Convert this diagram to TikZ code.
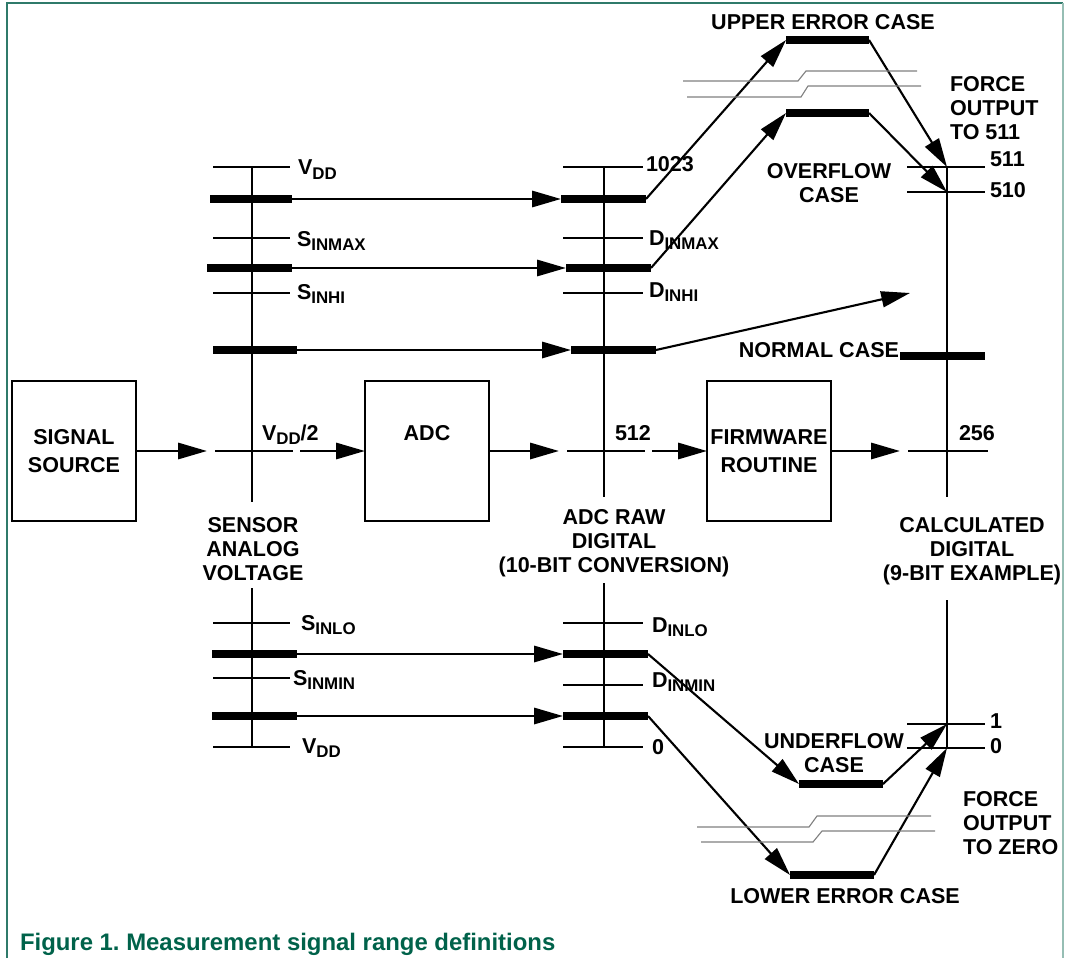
\documentclass[tikz,border=0pt]{standalone}
\usepackage{fontspec}
\setmainfont{Liberation Sans}
\usetikzlibrary{arrows.meta}
\definecolor{capgreen}{RGB}{0,98,74}
\definecolor{framegreen}{RGB}{47,122,106}
\definecolor{framegrey}{RGB}{150,190,180}
\newcommand{\sbs}[1]{\raisebox{-0.38ex}{\fontsize{12}{12}\selectfont #1}}
\frenchspacing
\begin{document}
\begin{tikzpicture}[x=0.025cm,y=-0.025cm,inner sep=0pt,outer sep=0pt,line width=1.4pt,
font=\fontsize{15.3}{17.2}\selectfont\bfseries,
block/.style={draw,rectangle,align=center,line width=1.4pt,minimum width=3.1cm,minimum height=3.5cm,
  font=\fontsize{15.3}{20}\selectfont\bfseries},
bar/.style={line width=5.8pt},
flow/.style={line width=2pt,-{Triangle[length=0.72cm,width=0.4cm]}},
slant/.style={line width=1.5pt,-{Triangle[length=0.72cm,width=0.4cm]}},
brk/.style={line width=0.8pt,draw=black!50},
txt/.style={align=center,anchor=north}]
\useasboundingbox (0,0) rectangle (1069,958);
% frame
\draw[framegreen,line width=1.6pt] (7,958) -- (7,3) -- (1063,3);
\draw[framegrey,line width=1.6pt] (1063,3) -- (1063,958);
% blocks
\node[block] (src) at (74,451) {SIGNAL\\SOURCE};
\node[block] (adc) at (427,451) {};
\node[anchor=base] (adctxt) at (427,440) {ADC};
\node[block] (fw) at (769,451) {FIRMWARE\\ROUTINE};
% scales
\draw (252,167) -- (252,502) (252,588) -- (252,747);
\draw (604,167) -- (604,497) (604,583) -- (604,747);
\draw (947,167) -- (947,497) (947,600) -- (947,748);
\foreach \y in {167,238,293,623,678,747} \draw (213,\y) -- (290,\y);
\foreach \y in {167,238,293,623,685,747} \draw (563,\y) -- (643,\y);
\foreach \y in {167,192,724,748} \draw (907,\y) -- (985,\y);
\draw (215,451) coordinate (smidw) -- (293,451) coordinate (smide);
\draw (567,451) coordinate (dmidw) -- (645,451) coordinate (dmide);
\draw (908,451) coordinate (cmidw) -- (988,451) coordinate (cmide);
% main signal path
\draw[flow,shorten >=0.2cm] (src.east) -- (smidw);
\draw[flow,shorten <=0.18cm] (smide) -- (adc.west);
\draw[flow,shorten >=0.2cm] (adc.east) -- (dmidw);
\draw[flow,shorten <=0.18cm] (dmide) -- (fw.west);
\draw[flow,shorten >=0.2cm] (fw.east) -- (cmidw);
% range bars, sensor -> ADC
\foreach \n/\y/\sa/\sb/\da/\db in {1/199/210/292/561/646,2/268/207/292/566/651,3/350/213/297/571/656,4/654/212/297/563/648,5/716/212/297/563/648} {
  \draw[bar] (\sa,\y) coordinate (s\n w) -- (\sb,\y) coordinate (s\n e);
  \draw[bar] (\da,\y) coordinate (d\n w) -- (\db,\y) coordinate (d\n e);
  \draw[flow] (s\n e) -- (d\n w);
}
% result cases
\draw[bar] (786,40) coordinate (uew) -- (869,40) coordinate (uee);
\draw[bar] (786,113) coordinate (ofw) -- (869,113) coordinate (ofe);
\draw[bar] (900,356) coordinate (ncw) -- (985,356) coordinate (nce);
\draw[bar] (799,784) coordinate (ufw) -- (883,784) coordinate (ufe);
\draw[bar] (790,875) coordinate (lew) -- (874,875) coordinate (lee);
\coordinate (t511) at (947,167);
\coordinate (t510) at (947,192);
\coordinate (t1) at (947,724);
\coordinate (t0) at (947,748);
\coordinate (ncin) at (910,293);
\draw[slant] (d1e) -- (uew);
\draw[slant] (uee) -- (t511);
\draw[slant] (d2e) -- (ofw);
\draw[slant] (ofe) -- (t510);
\draw[slant] (d3e) -- (ncin);
\draw[slant] (d4e) -- (ufw);
\draw[slant] (ufe) -- (t1);
\draw[slant] (d5e) -- (lew);
\draw[slant] (lee) -- (t0);
% break marks
\draw[brk] (683,81) -- (798,81) -- (806,71) -- (917,71);
\draw[brk] (687,97) -- (801,97) -- (808,86) -- (921,86);
\draw[brk] (697,827) -- (809,827) -- (817,816) -- (931,816);
\draw[brk] (701,842) -- (813,842) -- (822,831) -- (935,831);
% scale labels
\node[anchor=base west] (lvdd) at (298,175) {V\sbs{DD}};
\node[anchor=base west] (lsmax) at (297,246) {S\sbs{INMAX}};
\node[anchor=base west] (lshi) at (297,299) {S\sbs{INHI}};
\node[anchor=base west] (lslo) at (301,630) {S\sbs{INLO}};
\node[anchor=base west] (lsmin) at (293,685) {S\sbs{INMIN}};
\node[anchor=base west] (lvdd2) at (302,753) {V\sbs{DD}};
\node[anchor=base west] (lhalf) at (262,440) {V\sbs{DD}/2};
\node[anchor=base west] (l1023) at (646,172) {1023};
\node[anchor=base west] (ldmax) at (649,245) {D\sbs{INMAX}};
\node[anchor=base west] (ldhi) at (649,297) {D\sbs{INHI}};
\node[anchor=base west] (ldlo) at (652,632) {D\sbs{INLO}};
\node[anchor=base west] (ldmin) at (652,687) {D\sbs{INMIN}};
\node[anchor=base west] (lzeroadc) at (652,754) {0};
\node[anchor=base west] (l512) at (615,440) {512};
\node[anchor=base west] (l511) at (990,167) {511};
\node[anchor=base west] (l510) at (990,198) {510};
\node[anchor=base west] (l256) at (959,440) {256};
\node[anchor=base west] (lone) at (990,728) {1};
\node[anchor=base west] (lzero) at (990,753) {0};
% captions of scales and cases
\node[txt] (lsensor) at (253,517) {SENSOR\\ANALOG\\VOLTAGE};
\node[txt] (ladcraw) at (614,509) {ADC RAW\\DIGITAL\\(10-BIT CONVERSION)};
\node[txt] (lcalc) at (972,517) {CALCULATED\\DIGITAL\\(9-BIT EXAMPLE)};
\node[anchor=base] (lue) at (823,30) {UPPER ERROR CASE};
\node[txt] (lof) at (829,163) {OVERFLOW\\CASE};
\node[anchor=base east] (lnc) at (899,357) {NORMAL CASE};
\node[txt] (luf) at (834,733) {UNDERFLOW\\CASE};
\node[anchor=base] (lle) at (845,903) {LOWER ERROR CASE};
\node[align=left,anchor=north west] (lf511) at (950,76) {FORCE\\OUTPUT\\TO 511};
\node[align=left,anchor=north west] (lfzero) at (963,791) {FORCE\\OUTPUT\\TO ZERO};
\node[anchor=base west,text=capgreen,font=\fontsize{17}{20}\selectfont\bfseries] (cap) at (20,950) {Figure 1. Measurement signal range definitions};
\end{tikzpicture}
\end{document}
